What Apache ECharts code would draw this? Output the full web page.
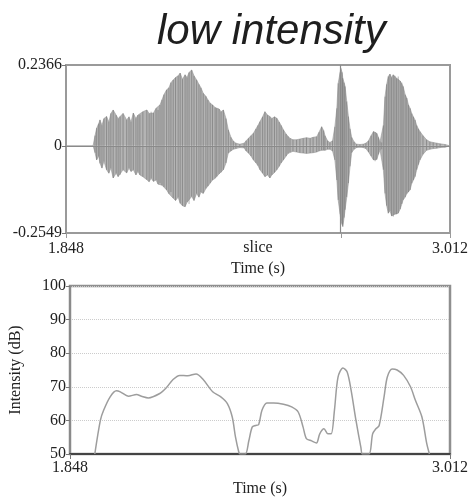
<!DOCTYPE html>
<html><head><meta charset="utf-8">
<script src="https://cdn.jsdelivr.net/npm/echarts@6/dist/echarts.min.js"></script>
<style>html,body{margin:0;padding:0;background:#fff}#c{width:471px;height:499px}</style>
</head><body><div id="c"></div>
<script>
const titleText = 'low intensity';
const xMin = 1.848, xMax = 3.012;
const waveYMin = -0.2549, waveYMax = 0.2366;
const sliceTime = 2.682;
const waveTime = [1.848,1.930,1.936,1.941,1.947,1.951,1.957,1.963,1.971,1.978,1.984,1.991,2.000,2.006,2.012,2.021,2.032,2.039,2.045,2.052,2.060,2.066,2.072,2.081,2.093,2.100,2.106,2.113,2.121,2.127,2.133,2.139,2.145,2.153,2.160,2.166,2.173,2.180,2.188,2.194,2.201,2.209,2.215,2.221,2.229,2.236,2.244,2.251,2.257,2.264,2.272,2.278,2.285,2.292,2.300,2.305,2.312,2.318,2.325,2.333,2.340,2.348,2.355,2.363,2.375,2.388,2.394,2.401,2.409,2.416,2.424,2.430,2.436,2.444,2.451,2.459,2.466,2.472,2.480,2.487,2.494,2.500,2.507,2.515,2.521,2.527,2.536,2.547,2.557,2.567,2.577,2.588,2.597,2.608,2.615,2.623,2.629,2.633,2.641,2.648,2.656,2.663,2.669,2.673,2.679,2.681,2.685,2.687,2.691,2.694,2.699,2.704,2.709,2.714,2.721,2.729,2.739,2.749,2.757,2.765,2.773,2.780,2.785,2.790,2.795,2.800,2.805,2.810,2.815,2.820,2.825,2.830,2.835,2.840,2.845,2.850,2.855,2.861,2.866,2.870,2.876,2.881,2.886,2.891,2.896,2.901,2.906,2.911,2.916,2.921,2.930,2.941,2.951,2.961,2.972,2.982,2.997,3.012];
const waveMax = [0,0,0.030,0.052,0.065,0.076,0.060,0.080,0.086,0.070,0.095,0.105,0.090,0.080,0.086,0.095,0.076,0.085,0.070,0.096,0.080,0.090,0.091,0.100,0.105,0.095,0.100,0.096,0.110,0.105,0.120,0.135,0.150,0.164,0.170,0.185,0.193,0.200,0.205,0.213,0.195,0.208,0.200,0.215,0.222,0.205,0.193,0.180,0.170,0.154,0.145,0.135,0.125,0.120,0.112,0.110,0.108,0.100,0.105,0.080,0.047,0.025,0.014,0.008,0.005,0.008,0.015,0.022,0.030,0.037,0.050,0.060,0.071,0.085,0.100,0.090,0.086,0.080,0.085,0.081,0.070,0.060,0.047,0.035,0.028,0.022,0.018,0.018,0.020,0.022,0.024,0.022,0.025,0.027,0.040,0.056,0.045,0.030,0.015,0.010,0.015,0.056,0.110,0.183,0.215,0.227,0.215,0.198,0.185,0.174,0.130,0.086,0.050,0.025,0.012,0.005,0.004,0.005,0.008,0.015,0.030,0.042,0.040,0.037,0.025,0.012,0.010,0.060,0.144,0.180,0.203,0.210,0.200,0.208,0.205,0.198,0.203,0.190,0.185,0.174,0.150,0.140,0.120,0.110,0.095,0.085,0.076,0.060,0.050,0.042,0.030,0.018,0.012,0.010,0.008,0.006,0.004,0];
const waveMin = [0,0,-0.020,-0.041,-0.030,-0.051,-0.065,-0.045,-0.070,-0.080,-0.065,-0.094,-0.080,-0.090,-0.085,-0.070,-0.079,-0.065,-0.075,-0.070,-0.085,-0.075,-0.085,-0.090,-0.099,-0.105,-0.095,-0.104,-0.100,-0.112,-0.109,-0.115,-0.120,-0.129,-0.140,-0.135,-0.153,-0.160,-0.150,-0.168,-0.175,-0.178,-0.165,-0.170,-0.148,-0.160,-0.139,-0.150,-0.135,-0.139,-0.125,-0.118,-0.109,-0.100,-0.095,-0.090,-0.082,-0.078,-0.070,-0.050,-0.021,-0.015,-0.010,-0.008,-0.005,-0.006,-0.015,-0.021,-0.030,-0.041,-0.050,-0.058,-0.070,-0.080,-0.090,-0.085,-0.094,-0.085,-0.078,-0.070,-0.060,-0.050,-0.041,-0.030,-0.022,-0.018,-0.016,-0.018,-0.020,-0.021,-0.022,-0.021,-0.020,-0.018,-0.015,-0.013,-0.012,-0.013,-0.010,-0.010,-0.015,-0.041,-0.100,-0.158,-0.200,-0.217,-0.230,-0.236,-0.210,-0.187,-0.150,-0.109,-0.060,-0.020,-0.010,-0.005,-0.004,-0.005,-0.008,-0.018,-0.030,-0.041,-0.045,-0.040,-0.025,-0.012,-0.010,-0.070,-0.139,-0.175,-0.197,-0.190,-0.205,-0.207,-0.200,-0.200,-0.197,-0.185,-0.170,-0.158,-0.150,-0.140,-0.135,-0.129,-0.110,-0.100,-0.090,-0.070,-0.055,-0.041,-0.025,-0.013,-0.010,-0.008,-0.007,-0.005,-0.004,0];
const intensityTime = [1.924,1.941,1.951,1.971,1.990,2.002,2.027,2.052,2.067,2.088,2.123,2.143,2.163,2.184,2.209,2.234,2.254,2.285,2.310,2.330,2.345,2.355,2.365,2.369,2.385,2.396,2.406,2.416,2.426,2.436,2.451,2.472,2.502,2.527,2.547,2.562,2.572,2.588,2.603,2.613,2.626,2.638,2.648,2.658,2.669,2.684,2.697,2.709,2.724,2.739,2.744,2.764,2.775,2.785,2.795,2.810,2.820,2.835,2.850,2.870,2.891,2.906,2.926,2.941,2.949];
const intensityDb = [50,60,63,67,68.8,68.5,67.2,67.7,67.2,66.7,68,69.7,72.1,73.4,73.3,73.8,72.4,68.5,67,65,61,55,50.6,50,50,54,58,58.5,58.8,63,65.2,65.2,64.8,64,62.5,58,54.6,53.9,53.3,56,57.5,56,56,63,72.9,75.6,74.4,69,60,52,50,50,56,57.5,58.5,67,72.9,75.3,75,73.4,70,66,61,53,50];
const waveYLabels = [waveYMin, 0, waveYMax];
const xLabels = [xMin, xMax];

const serif = 'Liberation Serif, Times New Roman, serif';
const txt = {fontFamily: serif, fontSize: 16, color: '#222'};
const zip = (a, b) => a.map((v, i) => [v, b[i]]);
const waveData = waveTime.map((t, i) => [t, waveMax[i], waveMin[i]]);

const chart = echarts.init(document.getElementById('c'), null, {renderer: 'canvas'});
chart.setOption({
  animation: false,
  backgroundColor: '#fff',
  graphic: [
    {type: 'text', left: 157, top: 11, style: {text: titleText, font: 'italic 42px "Liberation Sans", Arial, sans-serif', fill: '#1e1e1e'}},
    {type: 'text', x: 258, y: 248, style: {text: 'slice', font: '16px "Liberation Serif", serif', fill: '#222', align: 'center', verticalAlign: 'middle'}}
  ],
  grid: [
    {left: 66, right: 21, top: 65, height: 168, show: true, borderColor: '#9a9a9a', borderWidth: 2, backgroundColor: 'transparent'},
    {left: 66, right: 21, top: 286, height: 168, show: true, borderColor: '#8f8f8f', borderWidth: 2.5, backgroundColor: 'transparent'}
  ],
  xAxis: [
    {gridIndex: 0, type: 'value', min: xMin, max: xMax,
     axisLine: {show: true, onZero: false, lineStyle: {color: '#9a9a9a', width: 2}},
     axisTick: {show: true, customValues: [xMin, sliceTime, xMax], length: 5, lineStyle: {color: '#9a9a9a'}},
     axisLabel: {customValues: xLabels, margin: 8, formatter: v => v.toFixed(3), ...txt},
     splitLine: {show: false},
     name: 'Time (s)', nameLocation: 'middle', nameGap: 28, nameTextStyle: txt},
    {gridIndex: 1, type: 'value', min: xMin, max: xMax,
     axisLine: {show: true, onZero: false, lineStyle: {color: '#444', width: 2}},
     axisTick: {show: true, customValues: xLabels, length: 5, lineStyle: {color: '#777'}},
     axisLabel: {customValues: xLabels, margin: 6, formatter: v => v.toFixed(3), ...txt},
     splitLine: {show: false},
     name: 'Time (s)', nameLocation: 'middle', nameGap: 27, nameTextStyle: txt}
  ],
  yAxis: [
    {gridIndex: 0, type: 'value', min: waveYMin, max: waveYMax,
     axisLine: {show: true, onZero: false, lineStyle: {color: '#9a9a9a', width: 2}},
     axisTick: {show: true, customValues: waveYLabels, length: 4, lineStyle: {color: '#777'}},
     axisLabel: {customValues: waveYLabels, margin: 4, formatter: v => v === 0 ? '0' : String(v), ...txt},
     splitLine: {show: false}},
    {gridIndex: 1, type: 'value', min: 50, max: 100, interval: 10,
     axisLine: {show: true, lineStyle: {color: '#8a8a8a', width: 2}},
     axisTick: {show: true, length: 4, lineStyle: {color: '#777'}},
     axisLabel: {margin: 4, ...txt},
     splitLine: {show: true, lineStyle: {color: '#cccccc', type: 'dotted', width: 1}},
     name: 'Intensity (dB)', nameLocation: 'middle', nameGap: 46, nameTextStyle: txt}
  ],
  series: [
    {type: 'line', xAxisIndex: 0, yAxisIndex: 0, data: zip(waveTime, waveMax), symbol: 'none',
     lineStyle: {color: '#999', width: 0.6}, areaStyle: {color: '#b4b4b4', opacity: 1}, z: 2},
    {type: 'line', xAxisIndex: 0, yAxisIndex: 0, data: zip(waveTime, waveMin), symbol: 'none',
     lineStyle: {color: '#999', width: 0.6}, areaStyle: {color: '#b4b4b4', opacity: 1}, z: 2},
    {type: 'custom', xAxisIndex: 0, yAxisIndex: 0, data: waveData, encode: {x: 0, y: [1, 2]}, z: 3,
     renderItem: (params, api) => {
       const t = api.value(0);
       const p1 = api.coord([t, api.value(1)]);
       const p2 = api.coord([t, api.value(2)]);
       return {type: 'line', shape: {x1: p1[0], y1: p1[1], x2: p2[0], y2: p2[1]},
               style: {stroke: '#5a5a5a', lineWidth: 1, opacity: 0.45}};
     },
     markLine: {silent: true, symbol: 'none', label: {show: false},
       data: [{yAxis: 0, lineStyle: {color: '#8a8a8a', width: 1, type: 'solid'}},
              {xAxis: sliceTime, lineStyle: {color: '#8a8a8a', width: 1.2, type: 'solid'}}]}},
    {type: 'line', xAxisIndex: 1, yAxisIndex: 1, data: zip(intensityTime, intensityDb), symbol: 'none',
     smooth: 0.3, lineStyle: {color: '#9d9d9d', width: 1.5}, z: 3}
  ]
});
</script>
</body></html>
